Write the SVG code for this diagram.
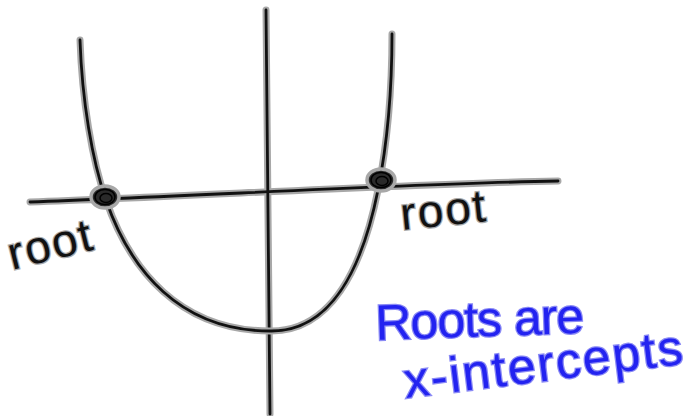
<svg xmlns="http://www.w3.org/2000/svg" width="696" height="416" viewBox="0 0 696 416">
<style>
.halo{fill:none;stroke:#a8a8a8;stroke-width:7;stroke-linecap:round;stroke-linejoin:round}
.ink{fill:none;stroke:#111;stroke-width:2.8;stroke-linecap:round;stroke-linejoin:round}
.lbl{font-family:"Liberation Sans",Arial,sans-serif;font-size:46px;fill:#111;stroke:#a8a8a8;stroke-width:2.5;paint-order:stroke}
.note{font-family:"Liberation Sans",Arial,sans-serif;font-size:50px;fill:#2323f0;stroke:#8a8af5;stroke-width:2.5;paint-order:stroke}
.dot{fill:#2a2a2a;stroke:#a8a8a8;stroke-width:3.5}
.scr{fill:none;stroke:#000;stroke-width:1.5}
</style>
<defs>
<path id="vaxis" d="M266,10 C267,120 268,260 270,414"/>
<path id="haxis" d="M30,202 C200,196 400,184 558,181"/>
<path id="curve" d="M80,40 C82,100 92,160 106,200 C130,270 180,331 270,331 C330,332 362,270 378,190 C388,140 392,90 392,34"/>
</defs>
<g id="axes">
<use href="#vaxis" class="halo"/><use href="#haxis" class="halo"/>
<use href="#vaxis" class="ink"/><use href="#haxis" class="ink"/>
</g>
<g id="parabola">
<use href="#curve" class="halo"/><use href="#curve" class="ink"/>
</g>
<g id="root-left">
<ellipse class="dot" cx="105" cy="197" rx="14" ry="11"/>
<ellipse class="scr" cx="105" cy="197" rx="10" ry="7.5"/>
<ellipse class="scr" cx="106" cy="198" rx="6" ry="4.5" stroke="#666"/>
<text class="lbl" transform="translate(12,270) rotate(-14)" letter-spacing="2">root</text>
</g>
<g id="root-right">
<ellipse class="dot" cx="381" cy="180" rx="14" ry="11"/>
<ellipse class="scr" cx="381" cy="180" rx="10" ry="7.5"/>
<ellipse class="scr" cx="382" cy="181" rx="6" ry="4.5" stroke="#666"/>
<text class="lbl" transform="translate(402,230) rotate(-6)" letter-spacing="2">root</text>
</g>
<g id="note">
<text class="note" transform="translate(376,340) rotate(-2)" letter-spacing="-1">Roots are</text>
<text class="note" transform="translate(406,398) rotate(-7)" letter-spacing="2">x-intercepts</text>
</g>
</svg>
